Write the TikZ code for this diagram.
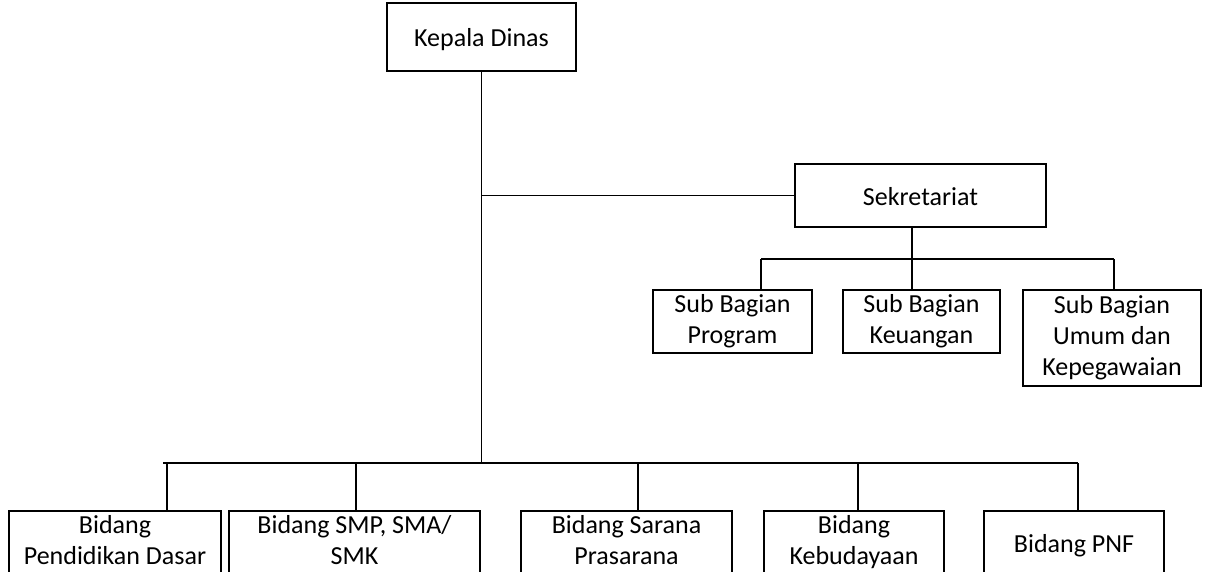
\documentclass[tikz,border=0pt]{standalone}
\usepackage{fontspec}
\setmainfont{Carlito}
\usetikzlibrary{positioning}
\newcommand\boxstrut{\rule[-5pt]{0pt}{29pt}}

\begin{document}
\begin{tikzpicture}[
  x=1pt, y=-1pt,
  line width=1.3pt,
  box/.style={rectangle, draw, align=center, inner sep=0pt,
    minimum height=63pt, font=\fontsize{26}{31}\selectfont,
    execute at begin node=\boxstrut, execute at end node=\boxstrut}
]
\useasboundingbox (0,0) rectangle (1208,571);
\clip (0,0) rectangle (1208,571);
% top
\node [box, minimum width=189pt, minimum height=68pt] (kadis) at (481.5,37) {Kepala Dinas};
\node [box, minimum width=251pt] (sekretariat) at (920.5,195.5) {Sekretariat};
% sub bagian
\node [box, minimum width=159pt] (program) at (732.5,321.5) {Sub Bagian\\Program};
\node [box, minimum width=157pt] (keuangan) at (921.5,321.5) {Sub Bagian\\Keuangan};
\node [box, minimum width=178pt, minimum height=96pt] (umum) at (1112,338) {Sub Bagian\\Umum dan\\Kepegawaian};
% bidang
\node [box, minimum width=212pt] (dasar) at (115,542.5) {Bidang\\Pendidikan Dasar};
\node [box, minimum width=251pt] (smp) at (354.5,542.5) {Bidang SMP, SMA/\\SMK};
\node [box, minimum width=211pt] (sarana) at (626.5,542.5) {Bidang Sarana\\Prasarana};
\node [box, minimum width=180pt] (budaya) at (854,542.5) {Bidang\\Kebudayaan};
\node [box, minimum width=180pt] (pnf) at (1074,542.5) {Bidang PNF};

% lines
\coordinate (bus) at (481.5,463);
\coordinate (busL) at (163,463);
\coordinate (busR) at (1078,463);
\draw (kadis.south) -- (bus);
\draw (busL) -- (busR);
\draw (kadis.south |- sekretariat.west) -- (sekretariat.west);

\coordinate (sekbus) at (912,259);
\coordinate (t-program) at (761,259);
\coordinate (t-umum) at (1114,259);
\draw (sekretariat.south -| sekbus) -- (sekbus);
\draw (t-program) -- (t-umum);
\draw (t-program) -- (t-program |- program.north);
\draw (sekbus) -- (sekbus |- keuangan.north);
\draw (t-umum) -- (t-umum |- umum.north);

\foreach \name/\x in {dasar/167, smp/356, sarana/638, budaya/858, pnf/1078}
  \draw (\x,463) -- (\x,463 |- \name.north);
\end{tikzpicture}
\end{document}
